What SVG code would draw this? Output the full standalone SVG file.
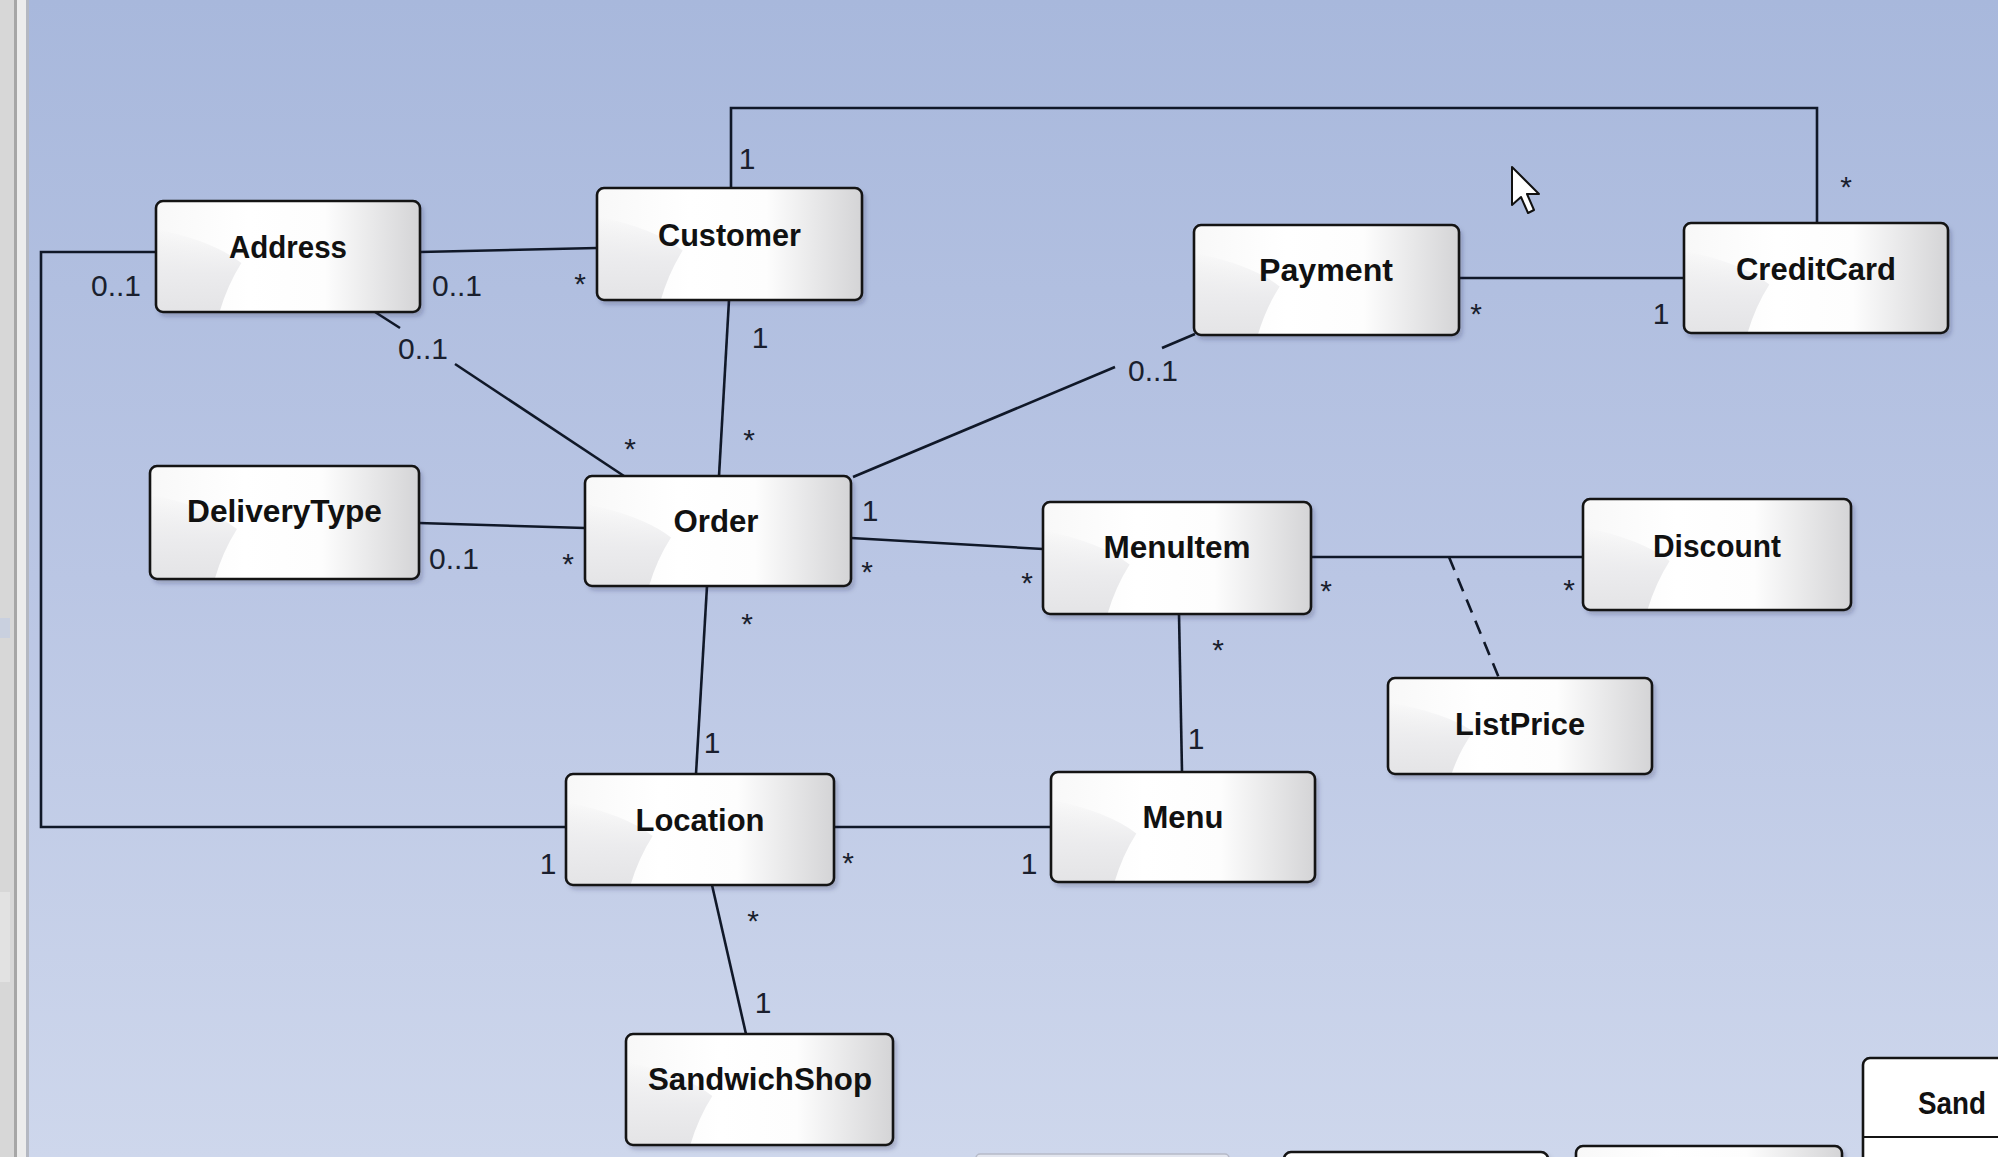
<svg xmlns="http://www.w3.org/2000/svg" xmlns:xlink="http://www.w3.org/1999/xlink" width="1998" height="1157" viewBox="0 0 1998 1157">
<defs>
  <linearGradient id="bg" x1="0" y1="0" x2="0" y2="1">
    <stop offset="0" stop-color="#a8b8dc"/>
    <stop offset="0.5" stop-color="#bac6e4"/>
    <stop offset="1" stop-color="#ced7ec"/>
  </linearGradient>
  <linearGradient id="nodeFill" x1="0" y1="0" x2="1" y2="0">
    <stop offset="0" stop-color="#f8f8f8"/>
    <stop offset="0.35" stop-color="#ffffff"/>
    <stop offset="0.64" stop-color="#fdfdfd"/>
    <stop offset="1" stop-color="#d4d4d6"/>
  </linearGradient>
  <linearGradient id="glare" x1="0" y1="0" x2="0" y2="1">
    <stop offset="0" stop-color="#e6e6e8" stop-opacity="0"/>
    <stop offset="0.55" stop-color="#ebebed" stop-opacity="1"/>
    <stop offset="1" stop-color="#e4e4e6" stop-opacity="1"/>
  </linearGradient>
  <filter id="shadow" x="-10%" y="-10%" width="130%" height="140%">
    <feDropShadow dx="3" dy="4" stdDeviation="2.5" flood-color="#1c2440" flood-opacity="0.28"/>
  </filter>
  <symbol id="face" viewBox="0 0 266 111" preserveAspectRatio="none">
    <rect x="0" y="0" width="266" height="111" rx="7" fill="url(#nodeFill)"/>
    <path d="M0,28 Q58,40 86,62 Q72,84 64,111 L7,111 Q0,111 0,104 Z" fill="url(#glare)"/>
  </symbol>
</defs>
<style>
  .under { fill: #ffffff; filter: url(#shadow); }
  .box { fill: none; stroke: #141414; stroke-width: 2.6; }
  .name { font-family: "Liberation Sans", Arial, sans-serif; font-weight: bold; font-size: 32px; fill: #111111; text-anchor: middle; }
  .mult { font-family: "Liberation Sans", Arial, sans-serif; font-size: 30px; fill: #1a1f2e; text-anchor: middle; }
  .conn { stroke: #101828; stroke-width: 2.6; fill: none; stroke-linejoin: miter; }
  .dash { stroke-dasharray: 14 9; }
</style>

<!-- background -->
<rect x="0" y="0" width="1998" height="1157" fill="url(#bg)"/>
<!-- left window frame strip -->
<rect x="0" y="0" width="14" height="1157" fill="#d7d7d7"/>
<rect x="14" y="0" width="3" height="1157" fill="#a6a6a6"/>
<rect x="17" y="0" width="9" height="1157" fill="#ececec"/>
<rect x="26" y="0" width="3" height="1157" fill="#b4b8c2"/>
<rect x="0" y="618" width="10" height="20" fill="#c9d0df"/>
<rect x="0" y="892" width="10" height="90" fill="#e2e2e2"/>

<!-- connectors -->
<g id="connectors">
  <line class="conn" x1="420" y1="252" x2="597" y2="248"/>
  <line class="conn" x1="375" y1="312" x2="400" y2="328"/>
  <line class="conn" x1="455" y1="364" x2="624" y2="476"/>
  <polyline class="conn" points="156,252 41,252 41,827 566,827"/>
  <polyline class="conn" points="731,188 731,108 1817,108 1817,223"/>
  <line class="conn" x1="729" y1="300" x2="719" y2="476"/>
  <line class="conn" x1="853" y1="477" x2="1115" y2="367"/>
  <line class="conn" x1="1162" y1="348" x2="1195" y2="334"/>
  <line class="conn" x1="1459" y1="278" x2="1684" y2="278"/>
  <line class="conn" x1="419" y1="523" x2="585" y2="528"/>
  <line class="conn" x1="851" y1="538" x2="1043" y2="549"/>
  <line class="conn" x1="707" y1="586" x2="696" y2="774"/>
  <line class="conn" x1="1311" y1="557" x2="1583" y2="557"/>
  <line class="conn dash" x1="1449" y1="557" x2="1499" y2="678"/>
  <line class="conn" x1="1179" y1="614" x2="1182" y2="772"/>
  <line class="conn" x1="834" y1="827" x2="1051" y2="827"/>
  <line class="conn" x1="712" y1="885" x2="746" y2="1034"/>
</g>

<!-- multiplicity labels -->
<g id="labels">
  <text class="mult" x="116" y="296">0..1</text>
  <text class="mult" x="457" y="296">0..1</text>
  <text class="mult" x="580" y="294">*</text>
  <text class="mult" x="423" y="359">0..1</text>
  <text class="mult" x="630" y="459">*</text>
  <text class="mult" x="747" y="169">1</text>
  <text class="mult" x="760" y="348">1</text>
  <text class="mult" x="749" y="450">*</text>
  <text class="mult" x="1153" y="381">0..1</text>
  <text class="mult" x="1476" y="324">*</text>
  <text class="mult" x="1661" y="324">1</text>
  <text class="mult" x="1846" y="197">*</text>
  <text class="mult" x="454" y="569">0..1</text>
  <text class="mult" x="568" y="574">*</text>
  <text class="mult" x="870" y="521">1</text>
  <text class="mult" x="867" y="582">*</text>
  <text class="mult" x="1027" y="593">*</text>
  <text class="mult" x="1326" y="601">*</text>
  <text class="mult" x="1569" y="600">*</text>
  <text class="mult" x="1218" y="660">*</text>
  <text class="mult" x="1196" y="749">1</text>
  <text class="mult" x="747" y="634">*</text>
  <text class="mult" x="712" y="753">1</text>
  <text class="mult" x="548" y="874">1</text>
  <text class="mult" x="848" y="873">*</text>
  <text class="mult" x="1029" y="874">1</text>
  <text class="mult" x="753" y="931">*</text>
  <text class="mult" x="763" y="1013">1</text>
</g>

<!-- nodes -->
<g id="node-address">
  <rect class="under" x="156" y="201" width="264" height="111" rx="7"/>
  <use xlink:href="#face" href="#face" x="156" y="201" width="264" height="111"/>
  <rect class="box" x="156" y="201" width="264" height="111" rx="7"/>
  <text class="name" x="288" y="258" textLength="118" lengthAdjust="spacingAndGlyphs">Address</text>
</g>
<g id="node-customer">
  <rect class="under" x="597" y="188" width="265" height="112" rx="7"/>
  <use xlink:href="#face" href="#face" x="597" y="188" width="265" height="112"/>
  <rect class="box" x="597" y="188" width="265" height="112" rx="7"/>
  <text class="name" x="729.5" y="246" textLength="143" lengthAdjust="spacingAndGlyphs">Customer</text>
</g>
<g id="node-payment">
  <rect class="under" x="1194" y="225" width="265" height="110" rx="7"/>
  <use xlink:href="#face" href="#face" x="1194" y="225" width="265" height="110"/>
  <rect class="box" x="1194" y="225" width="265" height="110" rx="7"/>
  <text class="name" x="1326" y="281" textLength="134" lengthAdjust="spacingAndGlyphs">Payment</text>
</g>
<g id="node-creditcard">
  <rect class="under" x="1684" y="223" width="264" height="110" rx="7"/>
  <use xlink:href="#face" href="#face" x="1684" y="223" width="264" height="110"/>
  <rect class="box" x="1684" y="223" width="264" height="110" rx="7"/>
  <text class="name" x="1816" y="280" textLength="160" lengthAdjust="spacingAndGlyphs">CreditCard</text>
</g>
<g id="node-deliverytype">
  <rect class="under" x="150" y="466" width="269" height="113" rx="7"/>
  <use xlink:href="#face" href="#face" x="150" y="466" width="269" height="113"/>
  <rect class="box" x="150" y="466" width="269" height="113" rx="7"/>
  <text class="name" x="284.5" y="522" textLength="195" lengthAdjust="spacingAndGlyphs">DeliveryType</text>
</g>
<g id="node-order">
  <rect class="under" x="585" y="476" width="266" height="110" rx="7"/>
  <use xlink:href="#face" href="#face" x="585" y="476" width="266" height="110"/>
  <rect class="box" x="585" y="476" width="266" height="110" rx="7"/>
  <text class="name" x="716" y="532" textLength="85" lengthAdjust="spacingAndGlyphs">Order</text>
</g>
<g id="node-menuitem">
  <rect class="under" x="1043" y="502" width="268" height="112" rx="7"/>
  <use xlink:href="#face" href="#face" x="1043" y="502" width="268" height="112"/>
  <rect class="box" x="1043" y="502" width="268" height="112" rx="7"/>
  <text class="name" x="1177" y="558" textLength="147" lengthAdjust="spacingAndGlyphs">MenuItem</text>
</g>
<g id="node-discount">
  <rect class="under" x="1583" y="499" width="268" height="111" rx="7"/>
  <use xlink:href="#face" href="#face" x="1583" y="499" width="268" height="111"/>
  <rect class="box" x="1583" y="499" width="268" height="111" rx="7"/>
  <text class="name" x="1717" y="557" textLength="128" lengthAdjust="spacingAndGlyphs">Discount</text>
</g>
<g id="node-listprice">
  <rect class="under" x="1388" y="678" width="264" height="96" rx="7"/>
  <use xlink:href="#face" href="#face" x="1388" y="678" width="264" height="96"/>
  <rect class="box" x="1388" y="678" width="264" height="96" rx="7"/>
  <text class="name" x="1520" y="735" textLength="130" lengthAdjust="spacingAndGlyphs">ListPrice</text>
</g>
<g id="node-location">
  <rect class="under" x="566" y="774" width="268" height="111" rx="7"/>
  <use xlink:href="#face" href="#face" x="566" y="774" width="268" height="111"/>
  <rect class="box" x="566" y="774" width="268" height="111" rx="7"/>
  <text class="name" x="700" y="831" textLength="129" lengthAdjust="spacingAndGlyphs">Location</text>
</g>
<g id="node-menu">
  <rect class="under" x="1051" y="772" width="264" height="110" rx="7"/>
  <use xlink:href="#face" href="#face" x="1051" y="772" width="264" height="110"/>
  <rect class="box" x="1051" y="772" width="264" height="110" rx="7"/>
  <text class="name" x="1183" y="828" textLength="81" lengthAdjust="spacingAndGlyphs">Menu</text>
</g>
<g id="node-sandwichshop">
  <rect class="under" x="626" y="1034" width="267" height="111" rx="7"/>
  <use xlink:href="#face" href="#face" x="626" y="1034" width="267" height="111"/>
  <rect class="box" x="626" y="1034" width="267" height="111" rx="7"/>
  <text class="name" x="760" y="1090" textLength="224" lengthAdjust="spacingAndGlyphs">SandwichShop</text>
</g>

<!-- partially visible boxes at the bottom edge -->
<g id="node-partial-1">
  <rect x="976" y="1154" width="253" height="20" rx="4" fill="#e3e6ef" stroke="#b6bac8" stroke-width="1.5"/>
</g>
<g id="node-partial-2">
  <rect class="under" x="1284" y="1152" width="264" height="40" rx="7"/>
  <rect class="box" x="1284" y="1152" width="264" height="40" rx="7"/>
</g>
<g id="node-partial-3">
  <rect class="under" x="1576" y="1146" width="266" height="40" rx="7"/>
  <use xlink:href="#face" href="#face" x="1576" y="1146" width="266" height="111"/>
  <rect class="box" x="1576" y="1146" width="266" height="40" rx="7"/>
</g>
<g id="node-partial-4">
  <rect x="1863" y="1058" width="200" height="140" rx="7" fill="#ffffff" stroke="#141414" stroke-width="2.6"/>
  <line x1="1863" y1="1137" x2="1998" y2="1137" stroke="#141414" stroke-width="2.2"/>
  <text class="name" x="1918" y="1114" style="text-anchor:start" textLength="68" lengthAdjust="spacingAndGlyphs">Sand</text>
</g>

<!-- mouse pointer -->
<polygon points="1512,167 1512,205 1521,197 1528,213 1534,210 1527,194 1539,194" fill="#ffffff" stroke="#111111" stroke-width="2" stroke-linejoin="round"/>
</svg>
